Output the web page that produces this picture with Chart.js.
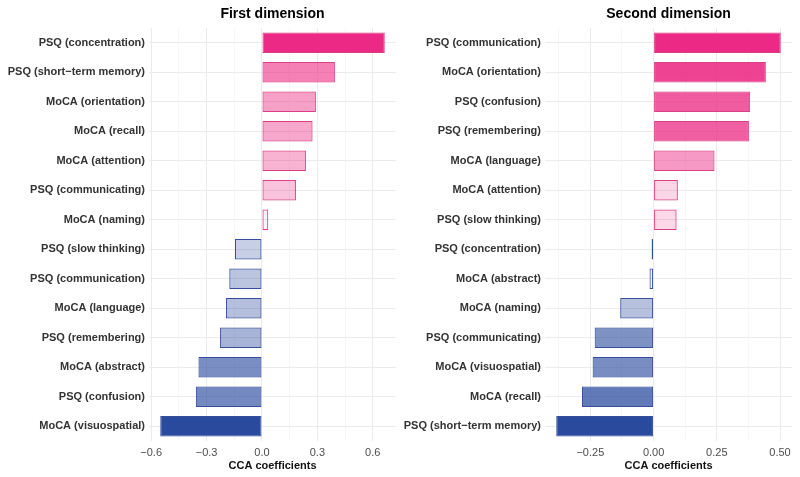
<!DOCTYPE html>
<html><head><meta charset="utf-8">
<script src="https://cdn.jsdelivr.net/npm/chart.js@4.4.1/dist/chart.umd.min.js"></script>
<style>
html,body{margin:0;padding:0;background:#fff;}
#wrap{position:relative;width:800px;height:477px;overflow:hidden;}
.panel{position:absolute;top:0;width:400px;height:477px;}
canvas{display:block;}
</style></head><body>
<div id="wrap">
<div class="panel" style="left:0"><canvas id="c1" width="400" height="477"></canvas></div>
<div class="panel" style="left:400px"><canvas id="c2" width="400" height="477"></canvas></div>
</div>
<script>
// ---- data ----
const dim1Title = 'First dimension';
const dim1Labels = ['PSQ (concentration)','PSQ (short\u2212term memory)','MoCA (orientation)','MoCA (recall)','MoCA (attention)','PSQ (communicating)','MoCA (naming)','PSQ (slow thinking)','PSQ (communication)','MoCA (language)','PSQ (remembering)','MoCA (abstract)','PSQ (confusion)','MoCA (visuospatial)'];
const dim1Values = [0.665,0.395,0.292,0.274,0.238,0.184,0.034,-0.146,-0.177,-0.195,-0.227,-0.344,-0.358,-0.551];
const dim1MajorTicks = [-0.6,-0.3,0,0.3,0.6];
const dim1TickLabels = ['\u22120.6','\u22120.3','0.0','0.3','0.6'];
const dim1MinorTicks = [-0.45,-0.15,0.15,0.45];

const dim2Title = 'Second dimension';
const dim2Labels = ['PSQ (communication)','MoCA (orientation)','PSQ (confusion)','PSQ (remembering)','MoCA (language)','MoCA (attention)','PSQ (slow thinking)','PSQ (concentration)','MoCA (abstract)','MoCA (naming)','PSQ (communicating)','MoCA (visuospatial)','MoCA (recall)','PSQ (short\u2212term memory)'];
const dim2Values = [0.503,0.444,0.382,0.377,0.241,0.096,0.091,-0.004,-0.016,-0.132,-0.233,-0.241,-0.283,-0.385];
const dim2MajorTicks = [-0.25,0,0.25,0.5];
const dim2TickLabels = ['\u22120.25','0.00','0.25','0.50'];
const dim2MinorTicks = [-0.375,-0.125,0.125,0.375];

const xTitle = 'CCA coefficients';

// ---- drawing ----
Chart.defaults.font.family = "'Liberation Sans', Arial, Helvetica, sans-serif";

function makeChart(id, title, labels, values, majors, tickLabels, minors, yWidth, padRight) {
  const lo = Math.min(0, ...values), hi = Math.max(0, ...values);
  const ex = (hi - lo) * 0.05;
  const maxPos = Math.max(...values.filter(v => v > 0));
  const maxNeg = Math.max(...values.filter(v => v < 0).map(Math.abs));
  const isMajor = v => majors.some(m => Math.abs(m - v) < 1e-9);
  const fill = values.map(v => v >= 0
    ? `rgba(236,41,132,${(v / maxPos).toFixed(3)})`
    : `rgba(42,74,158,${(-v / maxNeg).toFixed(3)})`);
  const border = values.map(v => v >= 0 ? 'rgba(212,28,112,0.85)' : 'rgba(32,60,145,0.9)');
  return new Chart(document.getElementById(id), {
    type: 'bar',
    data: { labels, datasets: [{ data: values, backgroundColor: fill, borderColor: border, borderWidth: 1, borderSkipped: false, minBarLength: 2, barPercentage: 0.7, categoryPercentage: 1 }] },
    options: {
      indexAxis: 'y', responsive: false, animation: false, devicePixelRatio: 1,
      layout: { autoPadding: false, padding: { top: 0, left: 0, right: padRight, bottom: 4 } },
      plugins: {
        legend: { display: false }, tooltip: { enabled: false },
        title: { display: true, text: title, fullSize: false, color: '#000', font: { size: 14, weight: 'bold' }, padding: { top: 5.6, bottom: 5.6 } }
      },
      scales: {
        x: {
          type: 'linear', min: lo - ex, max: hi + ex,
          afterBuildTicks: s => { s.ticks = [...majors, ...minors].sort((a, b) => a - b).map(v => ({ value: v })); },
          ticks: { autoSkip: false, maxRotation: 0, padding: 5, color: '#4d4d4d', font: { size: 11 },
            callback: v => { const i = majors.findIndex(m => Math.abs(m - v) < 1e-9); return i >= 0 ? tickLabels[i] : ''; } },
          grid: { drawTicks: false, color: c => isMajor(c.tick.value) ? '#EBEBEB' : '#F4F4F4', lineWidth: c => isMajor(c.tick.value) ? 1 : 0.7 },
          border: { display: false },
          title: { display: true, text: xTitle, color: '#111', font: { size: 11, weight: 'bold' }, padding: { top: 0, bottom: 0 } },
          afterFit: s => { s.height = 32; }
        },
        y: {
          type: 'category', offset: true,
          grid: { offset: false, drawTicks: false, color: '#EBEBEB' },
          border: { display: false },
          ticks: { autoSkip: false, color: '#333', font: { size: 11, weight: 'bold' }, padding: 4 },
          afterFit: s => { s.width = yWidth; }
        }
      }
    }
  });
}

makeChart('c1', dim1Title, dim1Labels, dim1Values, dim1MajorTicks, dim1TickLabels, dim1MinorTicks, 149, 4);
makeChart('c2', dim2Title, dim2Labels, dim2Values, dim2MajorTicks, dim2TickLabels, dim2MinorTicks, 145, 8);
</script>
</body></html>
